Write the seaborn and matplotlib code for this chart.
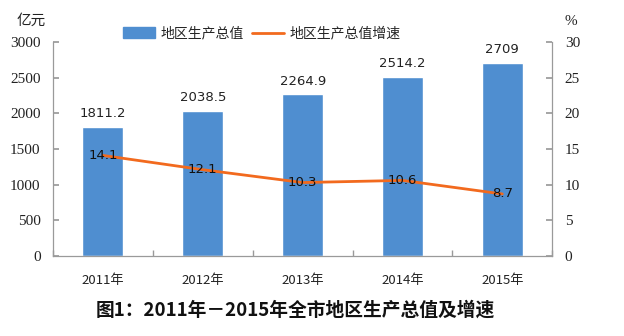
import matplotlib
matplotlib.use("Agg")
import matplotlib.pyplot as plt
import seaborn as sns
import pandas as pd
import numpy as np

years = ["2011年", "2012年", "2013年", "2014年", "2015年"]
gdp = [1811.2, 2038.5, 2264.9, 2514.2, 2709]
growth = [14.1, 12.1, 10.3, 10.6, 8.7]
gdp_labels = ["1811.2", "2038.5", "2264.9", "2514.2", "2709"]
gdp_ticks = [0, 500, 1000, 1500, 2000, 2500, 3000]
growth_ticks = [0, 5, 10, 15, 20, 25, 30]

sns.set_theme(style="white")
plt.rcParams["font.family"] = ["Noto Sans CJK SC", "DejaVu Sans"]
plt.rcParams["font.serif"] = ["Liberation Serif", "DejaVu Serif"]

df = pd.DataFrame({"year": years, "gdp": gdp, "growth": growth})

fig = plt.figure(figsize=(6.24, 3.36), dpi=100)
ax = fig.add_axes([0.085, 0.238, 0.8, 0.637])

bar_color = "#4F8ED0"
line_color = "#F26A1E"

sns.barplot(data=df, x="year", y="gdp", color=bar_color, width=0.41,
            saturation=1, ax=ax)
ax.set_ylim(0, 3000)
ax.set_xlim(-0.5, 4.5)
ax.set_xlabel("")
ax.set_ylabel("")

for i, (v, t) in enumerate(zip(gdp, gdp_labels)):
    ax.text(i, v + 90, t, ha="center", va="bottom", fontsize=9.5,
            color="#222222", family="DejaVu Sans")

ax2 = ax.twinx()
sns.lineplot(x=np.arange(len(years)), y=growth, ax=ax2, color=line_color,
             linewidth=2, legend=False)
ax2.set_ylim(0, 30)
ax2.set_xlim(-0.5, 4.5)
ax2.set_ylabel("")
for i, v in enumerate(growth):
    ax2.text(i, v, f"{v}", ha="center", va="center", fontsize=9.5,
             color="#111111", family="DejaVu Sans")

if ax.get_legend() is not None:
    ax.get_legend().remove()

for a in (ax, ax2):
    for s in a.spines.values():
        s.set_visible(False)
ax.spines["left"].set_visible(True)
ax.spines["bottom"].set_visible(True)
ax2.spines["right"].set_visible(True)
for s in (ax.spines["left"], ax.spines["bottom"], ax2.spines["right"]):
    s.set_color("#9a9a9a")
    s.set_linewidth(0.9)

ax.tick_params(axis="y", direction="in", length=4, color="#9a9a9a",
               pad=9, left=True)
ax2.tick_params(axis="y", direction="in", length=4, color="#9a9a9a",
                pad=9, right=True)
ax.set_yticks(gdp_ticks, labels=[str(t) for t in gdp_ticks],
              fontfamily="serif", fontsize=11, color="#222222")
ax2.set_yticks(growth_ticks, labels=[str(t) for t in growth_ticks],
               fontfamily="serif", fontsize=11, color="#222222")

# category boundary ticks on the bottom axis
ax.set_xticks(np.arange(len(years)))
ax.set_xticklabels(years, fontsize=9.5, color="#222222")
ax.set_xticks(np.arange(-0.5, 4.6, 1), minor=True)
ax.tick_params(axis="x", which="major", length=0, pad=13)
ax.tick_params(axis="x", which="minor", direction="in", length=4,
               color="#9a9a9a", bottom=True)

fig.text(0.027, 0.937, "亿元", ha="left", va="center", fontsize=10.5,
         color="#222222")
fig.text(0.905, 0.937, "%", ha="left", va="center", fontsize=11,
         color="#222222", family="serif")

handles = [plt.Rectangle((0, 0), 1, 1, color=bar_color),
           plt.Line2D([0], [0], color=line_color, linewidth=2)]
fig.legend(handles, ["地区生产总值", "地区生产总值增速"], loc="center",
           bbox_to_anchor=(0.42, 0.9), ncol=2, frameon=False, fontsize=10,
           handlelength=2.3, handleheight=0.8, columnspacing=0.6,
           handletextpad=0.4)

fig.text(0.473, 0.077, "图1：2011年－2015年全市地区生产总值及增速",
         ha="center", va="center", fontsize=13.5, fontweight="bold",
         color="#111111")

fig.savefig("out.png", dpi=100)
